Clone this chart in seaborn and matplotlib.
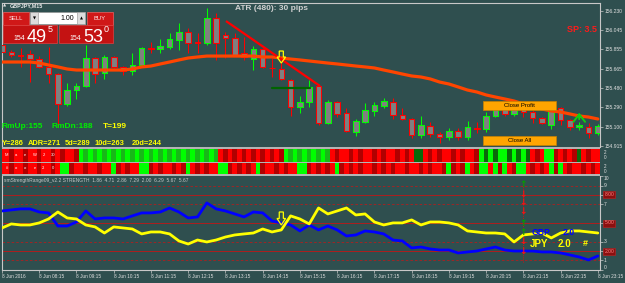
import matplotlib
matplotlib.use("Agg")
import matplotlib.pyplot as plt
from matplotlib.patches import Rectangle, Polygon
import seaborn as sns
import pandas as pd
import numpy as np

# ---------------- data (GBPJPY M15, 8 Jun 2016) ----------------
opens = [155.899, 155.830, 155.801, 155.811, 155.762, 155.685, 155.616, 155.324, 155.460, 155.499,
         155.772, 155.626, 155.782, 155.685, 155.645, 155.704, 155.869, 155.860, 155.879, 155.947,
         156.025, 155.928, 155.918, 156.162, 155.996, 155.967, 155.821, 155.762, 155.860, 155.675,
         155.665, 155.558, 155.295, 155.343, 155.499, 155.139, 155.343, 155.236, 155.051, 155.149,
         155.256, 155.304, 155.343, 155.217, 155.178, 155.022, 155.110, 155.032, 155.003, 155.061,
         155.003, 155.090, 155.080, 155.207, 155.275, 155.227, 155.285, 155.246, 155.188, 155.119,
         155.285, 155.168, 155.100, 155.100, 155.041]
highs = [155.909, 155.850, 155.869, 155.850, 155.791, 155.879, 155.626, 155.529, 155.529, 155.899,
         155.782, 155.801, 155.791, 155.694, 155.821, 155.879, 155.928, 155.957, 156.016, 156.113,
         156.064, 156.016, 156.259, 156.210, 156.025, 156.016, 155.977, 155.889, 155.869, 155.772,
         155.733, 155.568, 155.402, 155.558, 155.509, 155.363, 155.353, 155.285, 155.178, 155.334,
         155.343, 155.382, 155.382, 155.285, 155.188, 155.207, 155.149, 155.051, 155.090, 155.090,
         155.158, 155.149, 155.246, 155.314, 155.295, 155.295, 155.314, 155.266, 155.197, 155.314,
         155.295, 155.178, 155.149, 155.139, 155.129]
lows = [155.821, 155.782, 155.685, 155.538, 155.675, 155.529, 155.100, 155.304, 155.373, 155.490,
        155.529, 155.568, 155.675, 155.606, 155.606, 155.694, 155.821, 155.821, 155.860, 155.850,
        155.821, 155.821, 155.899, 155.753, 155.772, 155.791, 155.753, 155.655, 155.675, 155.587,
        155.558, 155.207, 155.236, 155.295, 155.119, 155.129, 155.197, 155.051, 155.012, 155.139,
        155.207, 155.285, 155.178, 155.168, 154.993, 154.993, 155.003, 154.944, 154.973, 154.973,
        154.973, 155.041, 155.051, 155.197, 155.207, 155.207, 155.197, 155.139, 155.129, 155.080,
        155.119, 155.071, 155.071, 154.993, 155.022]
closes = [155.830, 155.801, 155.796, 155.762, 155.685, 155.616, 155.324, 155.460, 155.499, 155.772,
          155.616, 155.782, 155.685, 155.645, 155.704, 155.869, 155.860, 155.889, 155.957, 156.025,
          155.918, 155.918, 156.162, 155.918, 155.967, 155.801, 155.782, 155.860, 155.685, 155.670,
          155.568, 155.295, 155.343, 155.490, 155.139, 155.343, 155.227, 155.061, 155.158, 155.266,
          155.314, 155.353, 155.217, 155.178, 155.022, 155.119, 155.032, 155.003, 155.061, 155.003,
          155.100, 155.085, 155.207, 155.275, 155.227, 155.275, 155.246, 155.188, 155.139, 155.285,
          155.168, 155.100, 155.119, 155.041, 155.110]
ma_line = [155.733, 155.733, 155.733, 155.733, 155.723, 155.704, 155.685, 155.665, 155.655, 155.655,
           155.655, 155.655, 155.655, 155.655, 155.665, 155.685, 155.694, 155.714, 155.733, 155.753,
           155.772, 155.782, 155.791, 155.791, 155.791, 155.791, 155.791, 155.791, 155.782, 155.782,
           155.772, 155.762, 155.753, 155.743, 155.733, 155.723, 155.714, 155.704, 155.694, 155.685,
           155.675, 155.655, 155.636, 155.616, 155.597, 155.587, 155.568, 155.538, 155.519, 155.490,
           155.460, 155.441, 155.412, 155.392, 155.373, 155.353, 155.324, 155.304, 155.275, 155.256,
           155.246, 155.227, 155.207, 155.197, 155.178]
gbp_strength = [6.29, 6.40, 6.51, 6.51, 6.18, 6.08, 4.68, 4.68, 5.11, 6.29,
                5.43, 5.54, 5.54, 5.43, 5.76, 6.08, 6.08, 6.18, 6.61, 6.18,
                5.54, 5.65, 7.15, 6.51, 6.29, 5.97, 5.65, 6.18, 6.08, 5.22,
                5.01, 4.79, 4.15, 4.79, 4.26, 4.68, 4.26, 3.61, 3.72, 4.15,
                4.04, 3.83, 3.18, 3.08, 2.33, 2.43, 2.22, 2.11, 2.11, 1.79,
                1.90, 2.00, 2.22, 2.43, 2.11, 2.00, 2.00, 2.00, 1.90, 1.90,
                1.79, 1.58, 1.36, 1.04, 1.47]
jpy_strength = [4.47, 4.90, 4.79, 4.79, 5.01, 5.43, 6.18, 5.54, 5.43, 4.79,
                4.58, 3.93, 4.58, 4.47, 4.36, 3.83, 4.04, 4.04, 3.83, 3.08,
                2.75, 3.18, 2.97, 3.18, 3.50, 3.72, 3.83, 3.93, 4.36, 4.04,
                4.26, 5.76, 5.43, 4.90, 6.61, 5.97, 6.29, 6.61, 5.86, 5.97,
                5.11, 4.79, 5.01, 5.01, 5.33, 4.79, 5.11, 5.11, 5.01, 4.79,
                4.15, 4.04, 3.93, 3.93, 3.83, 2.97, 3.72, 3.83, 3.93, 3.40,
                3.93, 4.15, 4.15, 4.04, 3.93]
time_labels = ["8 Jun 2016", "8 Jun 08:15", "8 Jun 09:15", "8 Jun 10:15", "8 Jun 11:15",
               "8 Jun 12:15", "8 Jun 13:15", "8 Jun 14:15", "8 Jun 15:15", "8 Jun 16:15",
               "8 Jun 17:15", "8 Jun 18:15", "8 Jun 19:15", "8 Jun 20:15", "8 Jun 21:15",
               "8 Jun 22:15", "8 Jun 23:15"]
price_ticks = [156.230, 156.045, 155.855, 155.665, 155.480, 155.290, 155.100, 154.915]
solid_levels = [8, 5, 2]
dashed_levels = [9, 7, 3, 1]
plain_levels = [10, 9, 7, 3, 1, 0]

trend_bars = [24.06, 34.16]
trend_prices = [156.132, 155.499]
support_bars = [29.0, 33.1]
support_price = 155.480

sell_signal_bar = 30
sell_signal_price = (155.840, 155.723)
sell_signal_strength = (6.18, 4.79)
buy_signal_bar = 62
buy_signal_price = (155.149, 155.266)

alert_bar = 56
alert_levels = [9.08, 8.01, 7.15, 6.18, 5.00, 3.93, 2.97, 1.90]
alert_dirs = ["up", "down", "down", "down", "up", "up", "down", "down"]

# two half-cells per bar: R red, r dark red, G lime, g green, d dark green
row1_cells = "".join(["RRrRRrRRrRRrR", "rRRr", "Gg" * 15, "RrRrRrRrRrRrRr", "GgGgGgGgGg",
                      "RrRRrRrRRrRrRRr", "RrR", "dd", "RrRrRRrRrRRr", "GdGdGGdGdGd",
                      "RrR", "GG", "rRrRr", "d", "RrRRr"])
row2_cells = "".join(["RRrRRrRRrRRrR", "GG", "rRRrRRrRRG", "rRrRRGGrRr", "RRrRrGRrRr",
                      "RRGGrRrRrR", "GrRRrRrRRG", "GrRrRrRGrR", "rRrRRrRrRrR", "RrRRrRrRRr",
                      "GrRrGRrGGRGrGRrGGRrRrRGrGRrRRrRrRG"])
row1_labels = ["M", "a", "e", "W", "2", "30"]
row2_labels = ["#", "o", "o", "e", "2.", "0"]

# ---------------- styling ----------------
W, H = 625, 283
BG = "#2F4F4F"
FRAME = "#C8C8C8"
BULL, BEAR = "#00FF00", "#FF0000"
cell_colors = {"R": "#FF0000", "r": "#B00000", "G": "#00FF00", "g": "#18B818", "d": "#0A6A0A"}

sns.set_theme(style="dark", rc={"axes.facecolor": BG, "figure.facecolor": BG})
plt.rcParams["font.family"] = ["Liberation Sans", "DejaVu Sans"]

df = pd.DataFrame({"open": opens, "high": highs, "low": lows, "close": closes,
                   "ma": ma_line, "gbp": gbp_strength, "jpy": jpy_strength})
df["bar"] = np.arange(len(df))

fig = plt.figure(figsize=(W / 100, H / 100), dpi=100)


def px_axes(x0, y0, x1, y1, **kw):
    return fig.add_axes([x0 / W, 1 - y1 / H, (x1 - x0) / W, (y1 - y0) / H], **kw)


def hollow_down_arrow(axis, x, top, tip, color="#FFFF00"):
    mid = top + (tip - top) * 0.5
    shaft, head = 0.22, 0.46
    pts = [(x - shaft, top), (x + shaft, top), (x + shaft, mid), (x + head, mid),
           (x, tip), (x - head, mid), (x - shaft, mid)]
    axis.add_patch(Polygon(pts, closed=True, fill=False, edgecolor=color, lw=0.9, zorder=6))


x_max = (600 - 2) / 9.31  # bars visible across the chart width

# ---------------- main price window ----------------
ax = px_axes(2, 3, 600, 147)
up = (df["close"] >= df["open"]).to_numpy()
cols = np.where(up, BULL, BEAR)
ax.vlines(df["bar"], df["low"], df["high"], colors=cols, lw=0.75, zorder=2)
body = (df["close"] - df["open"]).abs().clip(lower=0.004)
ax.bar(df["bar"], body, bottom=df[["open", "close"]].min(axis=1), width=0.6,
       color="#808080", edgecolor=cols, linewidth=0.75, zorder=3)
sns.lineplot(data=df, x="bar", y="ma", ax=ax, color="#FF4500", linewidth=2.3, zorder=4)
ax.plot(trend_bars, trend_prices, color="#FF0000", lw=1.6, zorder=5, solid_capstyle="butt")
ax.plot(support_bars, [support_price] * 2, color="#006400", lw=1.6, zorder=5)
hollow_down_arrow(ax, sell_signal_bar, *sell_signal_price)
ax.annotate("", xy=(buy_signal_bar, buy_signal_price[1]), xytext=(buy_signal_bar, buy_signal_price[0]),
            arrowprops=dict(arrowstyle="->,head_length=0.45,head_width=0.35", color="#10D010", lw=1.4),
            zorder=6)
ax.set_xlim(0, x_max)
ax.set_ylim(154.905, 156.308)
ax.set_xlabel("")
ax.set_ylabel("")
ax.set_xticks([])
ax.yaxis.tick_right()
ax.set_yticks(price_ticks)
ax.set_yticklabels([f"{p:.3f}" for p in price_ticks])
ax.tick_params(axis="y", colors=FRAME, labelcolor="#E0E0E0", labelsize=3.6, length=2,
               width=0.5, pad=1.2, direction="out", right=True, left=False)
for s in ["left", "top", "right"]:
    ax.spines[s].set_color(FRAME)
    ax.spines[s].set_linewidth(0.8)
ax.spines["bottom"].set_visible(False)

# ---------------- colour-bar rows ----------------
for (y0, y1, cells, labels) in [(148.7, 161.7, row1_cells, row1_labels),
                                (163.2, 173.5, row2_cells, row2_labels)]:
    axr = px_axes(2, y0, 600, y1)
    pos = np.arange(len(cells)) / 2
    axr.bar(pos, 1, width=0.52, color=[cell_colors[c] for c in cells], linewidth=0)
    for k, lab in enumerate(labels):
        axr.text(0.5 + k, 0.5, lab, fontsize=3, color="white", ha="center", va="center")
    axr.set_xlim(0, x_max)
    axr.set_ylim(0, 1)
    axr.axis("off")
    for k, lab in enumerate(["2", "0"]):
        fig.text(604 / W, 1 - (y0 + 3.5 + k * 5) / H, lab, fontsize=3.3, color="#E0E0E0", va="center")

# ---------------- currency strength window ----------------
ax2 = px_axes(2, 176.3, 600, 269.7)
for lv in solid_levels:
    ax2.axhline(lv, color="#B01E1E", lw=0.7, zorder=1)
for lv in dashed_levels:
    ax2.axhline(lv, color="#B01E1E", lw=0.6, dashes=(3, 2.5), zorder=1)
ax2.vlines(alert_bar, 0.8, 9.4, color="#FF0000", lw=0.6, linestyles=(0, (1, 1.5)), zorder=2)
sns.lineplot(data=df, x="bar", y="gbp", ax=ax2, color="#0000FF", linewidth=2.0, zorder=3)
sns.lineplot(data=df, x="bar", y="jpy", ax=ax2, color="#FFFF00", linewidth=2.0, zorder=4)
hollow_down_arrow(ax2, sell_signal_bar, *sell_signal_strength)
for lv, d in zip(alert_levels, alert_dirs):
    ax2.text(alert_bar, lv, "↑" if d == "up" else "↓", family=["DejaVu Sans"], fontweight="bold",
             fontsize=6.5, color="#00A000" if d == "up" else "#FF1010", ha="center", va="center", zorder=6)
ax2.text(56.9, 3.93, "GBP", color="#0000FF", fontsize=6.2, fontweight="bold", va="center", zorder=7)
ax2.text(60.2, 3.93, "2.0", color="#0000FF", fontsize=6.2, fontweight="bold", va="center", zorder=7)
ax2.text(56.7, 2.8, "JPY", color="#FFFF00", fontsize=7, fontweight="bold", va="center", zorder=7)
ax2.text(59.7, 2.8, "2.0", color="#FFFF00", fontsize=7, fontweight="bold", va="center", zorder=7)
ax2.text(62.4, 2.8, "#", color="#FFFF00", fontsize=6.5, fontweight="bold", va="center", zorder=7)
ax2.text(0.004, 9.5, "smStrengthRange09_v2.2 STRENGTH  1.86  4.71  2.86  7.29  2.00  6.29  5.67  5.67",
         transform=ax2.get_yaxis_transform(), fontsize=3.5, color="#C8C8C8", va="center")
ax2.set_xlim(0, x_max)
ax2.set_ylim(0, 10)
ax2.set_xlabel("")
ax2.set_ylabel("")
ax2.yaxis.tick_right()
ax2.set_yticks(plain_levels + solid_levels)
ax2.set_yticklabels([])
ax2.tick_params(axis="y", colors=FRAME, length=2, width=0.5, direction="out", right=True, left=False)
ytr = ax2.get_yaxis_transform()
for lv in plain_levels:
    ax2.text(1.0065, lv, str(lv), transform=ytr, fontsize=3.6, color="#E0E0E0",
             va="top" if lv == 10 else ("bottom" if lv == 0 else "center"))
for lv in solid_levels:
    ax2.text(1.0075, lv, f"{lv:.2f}", transform=ytr, fontsize=3.6, color="#FF8080", va="center",
             bbox=dict(boxstyle="square,pad=0.2", fc="#8B1010", ec="#C02020", lw=0.4))
ax2.set_xticks(range(0, len(df), 4))
ax2.set_xticklabels(time_labels, ha="left")
ax2.tick_params(axis="x", colors=FRAME, labelcolor="#E0E0E0", labelsize=3.4, length=2,
                width=0.5, pad=1.3, direction="out", bottom=True)
for s in ["left", "bottom", "right"]:
    ax2.spines[s].set_color(FRAME)
    ax2.spines[s].set_linewidth(0.8)
ax2.spines["top"].set_visible(False)

# ---------------- screen-anchored widgets and labels ----------------
ov = fig.add_axes([0, 0, 1, 1], zorder=10)
ov.set_xlim(0, W)
ov.set_ylim(H, 0)
ov.axis("off")

for y0, y1 in [(146.7, 148.7), (161.7, 163.2), (173.5, 175.6)]:
    ov.add_patch(Rectangle((2, y0), 598, y1 - y0, fc="#B4B4B4", ec="none"))

# one-click trading panel
ov.text(5, 5.5, "▲", family=["DejaVu Sans"], fontsize=3, color="#E0E0E0", ha="center", va="center")
ov.text(10, 5.5, "GBPJPY,M15", fontsize=3.9, fontweight="bold", color="#E8E8E8", va="center")
for x0, lab in [(3, "SELL"), (87, "BUY")]:
    ov.add_patch(Rectangle((x0, 12), 26, 13, fc="#D01818", ec="#F06060", lw=0.5))
    ov.text(x0 + 13, 18.5, lab, fontsize=4.2, color="#FFE8E8", ha="center", va="center")
ov.add_patch(Rectangle((30, 12), 55, 12, fc="white", ec="#909090", lw=0.4))
for x0, sym in [(30, "▼"), (77, "▲")]:
    ov.add_patch(Rectangle((x0, 12), 8, 12, fc="#DCDCDC", ec="#909090", lw=0.4))
    ov.text(x0 + 4, 18, sym, family=["DejaVu Sans"], fontsize=2.8, color="black", ha="center", va="center")
ov.text(74, 18, "1.00", fontsize=5, color="black", ha="right", va="center")
for x0, big, sup in [(3, "49", "5"), (59, "53", "0")]:
    ov.add_patch(Rectangle((x0, 25), 54, 18, fc="#C41212", ec="#E04040", lw=0.5))
    ov.text(x0 + 10, 39.5, "154", fontsize=5, color="white", va="baseline")
    ov.text(x0 + 24, 41.5, big, fontsize=13, color="white", va="baseline")
    ov.text(x0 + 45, 31.5, sup, fontsize=6.5, color="white", va="baseline")

ov.text(235, 8.5, "ATR (480): 30 pips", fontsize=6, fontweight="bold", color="#CFCFCF", va="center")
ov.text(597, 30, "SP: 3.5", fontsize=6.5, fontweight="bold", color="#FF1A1A", ha="right", va="center")

for x0, lab, col in [(2, "RmUp:155", "#00EE00"), (52, "RmDn:188", "#00EE00"), (103, "T=199", "#FFFF00")]:
    ov.text(x0, 127, lab, fontsize=6, fontweight="bold", color=col, va="center")
for x0, lab in [(2, "Y=286"), (28, "ADR=271"), (65, "5d=289"), (95, "10d=263"), (132, "20d=244")]:
    ov.text(x0, 143.3, lab, fontsize=5.4, fontweight="bold", color="#FFFF00", va="center")

for y0, lab in [(101, "Close Profit"), (136, "Close All")]:
    ov.add_patch(Rectangle((483, y0), 73, 8.5, fc="#FFA500", ec="#C88000", lw=0.5))
    ov.text(519.5, y0 + 4.4, lab, fontsize=4.3, color="black", ha="center", va="center")

fig.savefig("out.png", dpi=100, facecolor=BG)
